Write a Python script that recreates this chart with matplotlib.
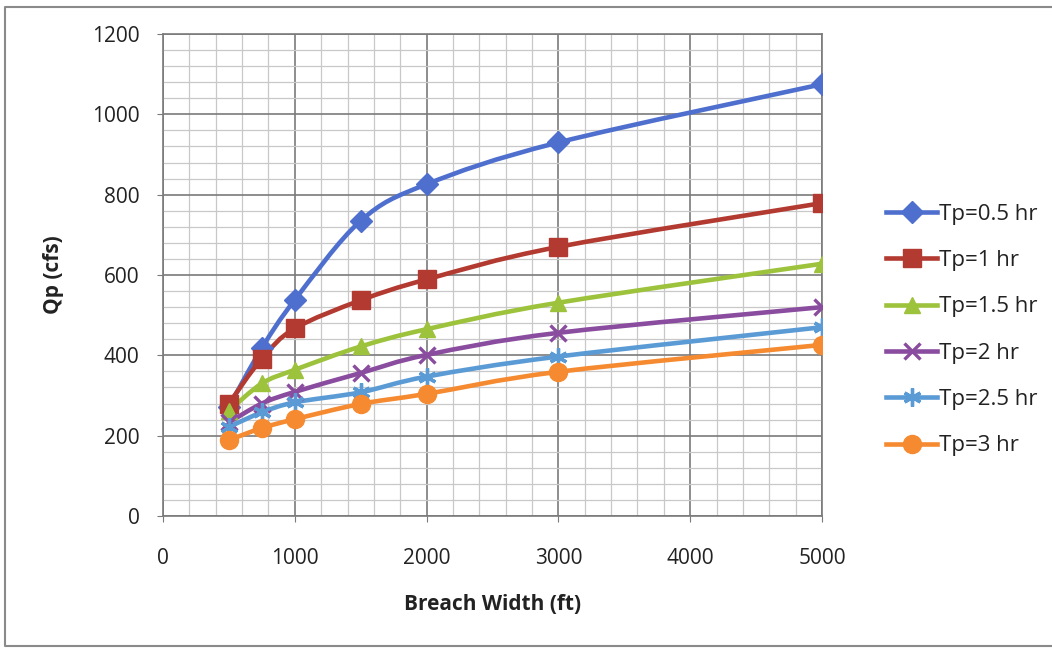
import matplotlib
matplotlib.use("Agg")
import matplotlib.pyplot as plt
from matplotlib.path import Path
from matplotlib.patches import PathPatch
from matplotlib.lines import Line2D
from matplotlib.ticker import MultipleLocator
import numpy as np

plt.rcParams['font.family'] = ['Open Sans', 'DejaVu Sans']

breach_width = [500, 750, 1000, 1500, 2000, 3000, 5000]
series_labels = ["Tp=0.5 hr", "Tp=1 hr", "Tp=1.5 hr", "Tp=2 hr", "Tp=2.5 hr", "Tp=3 hr"]
tp_05 = [272, 418, 538, 735, 826, 930, 1075]
tp_1 = [280, 392, 467, 537, 589, 670, 779]
tp_15 = [262, 330, 364, 422, 465, 531, 628]
tp_2 = [233, 280, 309, 356, 401, 456, 520]
tp_25 = [222, 258, 283, 308, 347, 397, 470]
tp_3 = [189, 219, 241, 279, 304, 359, 426]
series_values = [tp_05, tp_1, tp_15, tp_2, tp_25, tp_3]

colors = ["#4F6FCF", "#B23A30", "#9DC23C", "#8A4C9E", "#5B9BD5", "#F58A30"]
markers = ["D", "s", "^", "x", (6, 2, 0), "o"]
msizes = [11, 13, 12, 12, 13, 13]

fig = plt.figure(figsize=(10.52, 6.5), dpi=100)
ax = fig.add_axes([163/1052, 1-516/650, (822-163)/1052, (516-34)/650])

def smooth_path(xs, ys):
    p = np.column_stack([xs, ys]).astype(float)
    n = len(p)
    verts = [p[0]]
    codes = [Path.MOVETO]
    for i in range(n-1):
        p0 = p[i-1] if i > 0 else p[i]
        p1 = p[i]
        p2 = p[i+1]
        p3 = p[i+2] if i+2 < n else p[i+1]
        c1 = p1 + (p2 - p0)/6.0
        c2 = p2 - (p3 - p1)/6.0
        verts += [c1, c2, p2]
        codes += [Path.CURVE4]*3
    return Path(verts, codes)

def mew_for(mk):
    return 2.4 if (mk == "x" or isinstance(mk, tuple)) else 1

for vals, col, mk, ms in zip(series_values, colors, markers, msizes):
    patch = PathPatch(smooth_path(breach_width, vals), facecolor='none',
                      edgecolor=col, lw=3.3, zorder=3, capstyle='round', joinstyle='round')
    ax.add_patch(patch)
    ax.plot(breach_width, vals, linestyle='none', marker=mk, markersize=ms,
            color=col, markeredgecolor=col, markeredgewidth=mew_for(mk), zorder=4)

ax.set_xlim(0, 5000)
ax.set_ylim(0, 1200)
ax.xaxis.set_major_locator(MultipleLocator(1000))
ax.xaxis.set_minor_locator(MultipleLocator(200))
ax.yaxis.set_major_locator(MultipleLocator(200))
ax.yaxis.set_minor_locator(MultipleLocator(40))
ax.grid(which='major', color='#7a7a7a', lw=1.2, zorder=1)
ax.grid(which='minor', color='#c8c8c8', lw=0.9, zorder=0)
ax.set_axisbelow(True)
for s in ax.spines.values():
    s.set_color('#7a7a7a')
    s.set_linewidth(1.2)
ax.tick_params(which='major', direction='out', length=4, color='#7a7a7a', labelsize=15,
               labelcolor='#222222')
ax.tick_params(axis='x', which='major', pad=19)
ax.tick_params(axis='y', which='major', pad=13)
ax.tick_params(which='minor', length=0)

ax.set_xlabel("Breach Width (ft)", fontsize=15, fontweight='bold', labelpad=18, color='#222222')
ax.set_ylabel("Qp (cfs)", fontsize=15, fontweight='bold', labelpad=20, color='#222222')

handles = [Line2D([0], [0], color=c, lw=3.3, marker=m, markersize=ms,
                  markeredgewidth=mew_for(m))
           for c, m, ms in zip(colors, markers, msizes)]
fig.legend(handles, series_labels, loc='center left', bbox_to_anchor=(866/1052, 1-330/650),
           frameon=False, fontsize=16, handlelength=2.3, handletextpad=0.1,
           labelspacing=1.14, labelcolor='#222222')

fig.add_artist(Line2D([1.0, 5/1052, 5/1052, 1.0], [1-7/650, 1-7/650, 1-646/650, 1-646/650],
                      transform=fig.transFigure, color='#8a8a8a', lw=1.5))

fig.savefig("out.png", dpi=100)
